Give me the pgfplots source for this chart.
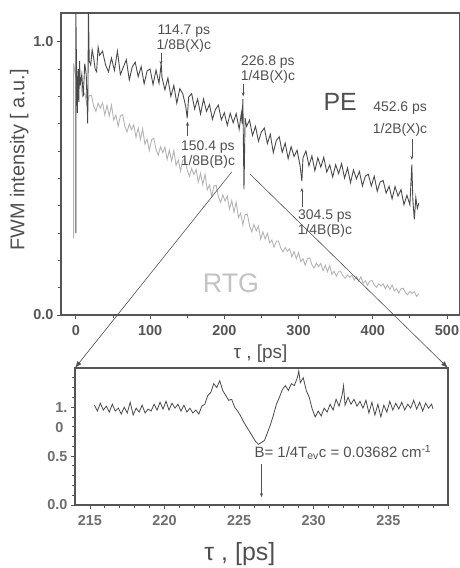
\documentclass[border=0pt]{standalone}
\usepackage{fontspec}
\setmainfont{Liberation Sans}
\usepackage{pgfplots}
\pgfplotsset{compat=1.18}
\usetikzlibrary{arrows.meta}
\definecolor{axisgray}{HTML}{555555}
\definecolor{pegray}{HTML}{4A4A4A}
\definecolor{rtggray}{HTML}{B4B4B4}
\definecolor{txtgray}{HTML}{505050}

\begin{document}
\begin{tikzpicture}
\useasboundingbox (0bp,0bp) rectangle (460bp,568bp);
\pgfplotsset{
  every axis/.append style={
    scale only axis,
    axis line style={axisgray, line width=1.1pt},
    tick style={axisgray, line width=0.8pt},
    tick align=outside,
    xtick pos=bottom, ytick pos=left,
    major tick length=4bp, minor tick length=3bp,
    /pgf/number format/assume math mode=true,
    ticklabel style={font=\fontsize{14.5}{16}\selectfont\bfseries, text=axisgray},
    xticklabel style={yshift=-3bp},
  },
}
% upper panel
\begin{axis}[
  name=upper,
  at={(61bp,253bp)}, anchor=south west,
  width=399bp, height=302bp,
  xmin=-20, xmax=517.5, ymin=0, ymax=1.105,
  xtick={0,100,200,300,400,500},
  minor xtick={50,150,250,350,450},
  ytick={0,1}, yticklabels={0.0,1.0},
  minor ytick={0.1,0.2,0.3,0.4,0.5,0.6,0.7,0.8,0.9},
  xlabel={τ , [ps]},
  xlabel style={font=\fontsize{19}{21}\selectfont, text=txtgray, at={(axis description cs:0.5,-0.128)}, anchor=center},
  ylabel={FWM intensity [ a.u.]},
  ylabel style={font=\fontsize{20}{22}\selectfont, text=txtgray, at={(axis description cs:-0.105,0.513)}, anchor=center},
  clip=true,
]
% RTG
\addplot[rtggray, line width=0.9pt] coordinates {
(-3,0.28) (-3,0.92) (0,0.87) (3,0.825) (6,0.859) (9,0.799) (12,0.813) (15,0.768) (18,0.802) (21,0.804) (24,0.764) (27,0.745) (30,0.775) (33,0.756) (36,0.776) (39,0.732) (42,0.767) (45,0.728) (48,0.768) (51,0.713) (54,0.732) (57,0.690) (60,0.729) (63,0.733) (66,0.691) (69,0.670) (72,0.699) (75,0.678) (78,0.696) (81,0.650) (84,0.684) (87,0.642) (90,0.681) (93,0.625) (96,0.643) (99,0.602) (102,0.641) (105,0.646) (108,0.606) (111,0.585) (114,0.615) (117,0.594) (120,0.614) (123,0.569) (126,0.603) (129,0.563) (132,0.602) (135,0.547) (138,0.567) (141,0.526) (144,0.566) (147,0.570) (150,0.530) (153,0.508) (156,0.536) (159,0.514) (162,0.532) (165,0.486) (168,0.519) (171,0.477) (174,0.515) (177,0.458) (180,0.476) (183,0.434) (186,0.472) (189,0.475) (192,0.433) (195,0.412) (198,0.440) (201,0.417) (204,0.435) (207,0.387) (210,0.419) (213,0.376) (216,0.413) (219,0.356) (222,0.373) (225,0.330) (228,0.367) (231,0.369) (234,0.327) (237,0.304) (240,0.331) (243,0.308) (246,0.325) (249,0.278) (252,0.304) (255,0.278) (258,0.299) (261,0.264) (264,0.274) (267,0.248) (270,0.270) (273,0.271) (276,0.245) (279,0.231) (282,0.247) (285,0.233) (288,0.242) (291,0.213) (294,0.232) (297,0.206) (300,0.228) (303,0.195) (306,0.206) (309,0.182) (312,0.206) (315,0.209) (318,0.184) (321,0.172) (324,0.190) (327,0.177) (330,0.189) (333,0.162) (336,0.182) (339,0.158) (342,0.182) (345,0.149) (348,0.160) (351,0.142) (354,0.158) (357,0.159) (360,0.143) (363,0.135) (366,0.146) (369,0.138) (372,0.145) (375,0.127) (378,0.141) (381,0.124) (384,0.140) (387,0.117) (390,0.125) (393,0.109) (396,0.124) (399,0.126) (402,0.110) (405,0.102) (408,0.114) (411,0.106) (414,0.114) (417,0.096) (420,0.110) (423,0.094) (426,0.110) (429,0.088) (432,0.096) (435,0.080) (438,0.096) (441,0.098) (444,0.082) (447,0.074) (450,0.086) (453,0.078) (456,0.086) (459,0.068) (462,0.078)
};
% PE
\addplot[pegray, line width=0.9pt] coordinates {
(0,0.30) (0,1.12) (1,0.88) (2,0.74) (3,0.90) (4,0.78) (5,0.93) (6,0.84) (8,0.88) (10,0.80) (12,0.92) (14,0.88) (16,0.70) (17,1.12) (18,0.93) (20,0.915) (22,0.97) (24,0.94) (26,0.90) (28,0.89) (30,0.98) (32,0.95) (36,0.965) (40,0.915) (44,0.89) (48,0.94) (52,0.895) (56,0.965) (60,0.88) (64,0.907) (68,0.934) (72,0.86) (76,0.908) (80,0.925) (84,0.872) (88,0.909) (92,0.846) (96,0.893) (100,0.90) (104,0.843) (108,0.896) (112,0.848) (115,0.92) (116,0.87) (120,0.824) (124,0.867) (128,0.80) (132,0.84) (136,0.775) (140,0.828) (144,0.81) (148,0.764) (150,0.72) (152,0.797) (156,0.81) (160,0.754) (164,0.79) (168,0.735) (172,0.79) (176,0.745) (180,0.77) (184,0.716) (188,0.752) (192,0.768) (196,0.714) (200,0.74) (204,0.694) (208,0.738) (212,0.703) (216,0.737) (220,0.68) (223,0.74) (224,0.70) (225,0.79) (226.5,0.46) (228,0.72) (230,0.69) (234,0.713) (238,0.657) (242,0.69) (246,0.636) (250,0.67) (254,0.684) (258,0.627) (262,0.661) (266,0.594) (270,0.638) (274,0.652) (278,0.595) (282,0.629) (286,0.572) (290,0.616) (294,0.58) (298,0.603) (302,0.547) (304.5,0.49) (306,0.575) (310,0.60) (314,0.546) (318,0.582) (322,0.528) (326,0.575) (330,0.541) (334,0.577) (338,0.523) (342,0.549) (346,0.505) (350,0.55) (354,0.517) (358,0.554) (362,0.501) (366,0.538) (370,0.484) (374,0.531) (378,0.498) (382,0.525) (386,0.472) (390,0.508) (394,0.515) (398,0.472) (402,0.508) (406,0.453) (410,0.487) (414,0.492) (418,0.446) (422,0.471) (426,0.425) (430,0.47) (434,0.435) (438,0.459) (442,0.404) (446,0.438) (450,0.403) (452.6,0.55) (454,0.42) (456,0.35) (458,0.43) (460,0.39) (462,0.41)
};
% annotations
\begin{scope}[every node/.style={text=txtgray, font=\fontsize{14}{15}\selectfont, align=center, inner sep=0pt}]
\node at (axis cs:145.5,1.01) {114.7 ps\\1/8B(X)c};
\node at (axis cs:258.8,0.897) {226.8 ps\\1/4B(X)c};
\node at (axis cs:178,0.588) {150.4 ps\\1/8B(B)c};
\node at (axis cs:335.6,0.336) {304.5 ps\\1/4B(B)c};
\node at (axis cs:436.7,0.758) {452.6 ps};
\node at (axis cs:436.7,0.678) {1/2B(X)c};
\node[font=\fontsize{25}{27}\selectfont] at (axis cs:356,0.78) {PE};
\node[font=\fontsize{27}{29}\selectfont, text=rtggray!80] at (axis cs:209,0.117) {RTG};
\end{scope}
\begin{scope}[txtgray, line width=0.5pt, -{Stealth[length=4pt,width=3pt]}]
\draw (axis cs:114.7,0.96) -- (axis cs:114.7,0.915);
\draw (axis cs:225.5,0.845) -- (axis cs:225.5,0.80);
\draw (axis cs:452.6,0.645) -- (axis cs:452.6,0.568);
\draw (axis cs:150.4,0.655) -- (axis cs:150.4,0.707);
\draw (axis cs:304.5,0.396) -- (axis cs:304.5,0.465);
\end{scope}
\coordinate (zl) at (axis cs:210.2,0.524);
\coordinate (zr) at (axis cs:234.5,0.516);
\end{axis}

% lower panel
\begin{axis}[
  name=lower,
  at={(75bp,63bp)}, anchor=south west,
  width=373bp, height=137bp,
  xmin=214, xmax=239, ymin=0, ymax=1.40,
  xtick={215,220,225,230,235},
  minor xtick={216,217,218,219,221,222,223,224,226,227,228,229,231,232,233,234,236,237,238},
  ytick={0,0.5,1}, yticklabels={0.0,0.5,{\smash{\rlap{\raisebox{-20bp}{0}}}1.}},
  minor ytick={0.1,0.2,0.3,0.4,0.6,0.7,0.8,0.9,1.1,1.2,1.3},
  ticklabel style={font=\fontsize{14.5}{16}\selectfont\bfseries, text=axisgray!85},
  xlabel={τ , [ps]},
  xlabel style={font=\fontsize{25}{27}\selectfont, text=txtgray, at={(axis description cs:0.442,-0.36)}, anchor=center},
]
\addplot[pegray, line width=0.8pt] coordinates {
(215.3,1.02) (215.5,0.96) (215.7,1.04) (215.9,0.97) (216.1,1.01) (216.3,0.95) (216.5,1.03) (216.7,0.96) (216.9,0.99) (217.1,0.93) (217.3,1.00) (217.5,0.94) (217.7,1.05) (217.9,0.92) (218.1,0.99) (218.3,0.95) (218.5,1.02) (218.7,0.94) (218.9,0.98) (219.1,0.96) (219.3,1.03) (219.5,0.97) (219.7,1.05) (219.9,0.98) (220.1,1.06) (220.3,0.97) (220.5,1.04) (220.7,0.99) (220.9,1.03) (221.1,0.96) (221.3,1.02) (221.5,0.95) (221.7,0.99) (221.9,0.94) (222.1,0.97) (222.3,0.93) (222.5,1.01) (222.7,1.03) (222.9,1.12) (223.1,1.15) (223.3,1.24) (223.5,1.20) (223.7,1.27) (223.9,1.17) (224.1,1.12) (224.3,1.07) (224.5,1.08) (224.7,1.00) (224.9,0.96) (225.1,0.91) (225.3,0.85) (225.5,0.80) (225.7,0.75) (225.9,0.70) (226.1,0.65) (226.3,0.62) (226.5,0.64) (226.7,0.66) (226.9,0.74) (227.1,0.82) (227.3,0.92) (227.5,1.03) (227.7,1.10) (227.9,1.18) (228.1,1.22) (228.3,1.17) (228.5,1.24) (228.7,1.22) (228.9,1.30) (229.0,1.37) (229.1,1.25) (229.3,1.30) (229.5,1.17) (229.7,1.10) (229.9,0.98) (230.1,0.90) (230.3,0.96) (230.5,0.91) (230.7,0.99) (230.9,0.95) (231.1,1.03) (231.3,0.97) (231.5,1.08) (231.7,1.01) (231.9,1.12) (232.0,1.22) (232.1,1.02) (232.3,1.10) (232.5,1.03) (232.7,1.08) (232.9,1.01) (233.1,1.06) (233.3,0.99) (233.5,1.07) (233.7,0.94) (233.9,1.05) (234.1,0.92) (234.3,1.03) (234.5,0.90) (234.7,1.02) (234.9,0.95) (235.1,1.06) (235.3,0.97) (235.5,1.04) (235.7,0.98) (235.9,1.05) (236.1,0.97) (236.3,1.03) (236.5,0.99) (236.7,1.07) (236.9,0.98) (237.1,1.05) (237.3,0.96) (237.5,1.04) (237.7,0.99) (237.9,1.03) (238.0,0.98)
};
\node[text=txtgray, font=\fontsize{15}{17}\selectfont, inner sep=0pt] at (axis cs:231.96,0.54) {B= 1/4T\textsubscript{ev}c = 0.03682 cm\textsuperscript{-1}};
\draw[txtgray, line width=0.5pt, -{Stealth[length=4pt,width=3pt]}] (axis cs:226.5,0.42) -- (axis cs:226.5,0.08);
\coordinate (lnw) at (rel axis cs:0,1);
\coordinate (lne) at (rel axis cs:1,1);
\end{axis}
\draw[txtgray, line width=0.6pt, -{Latex[length=7pt,width=5pt]}] (zl) -- (lnw);
\draw[txtgray, line width=0.6pt, -{Latex[length=7pt,width=5pt]}] (zr) -- (lne);
\end{tikzpicture}
\end{document}
